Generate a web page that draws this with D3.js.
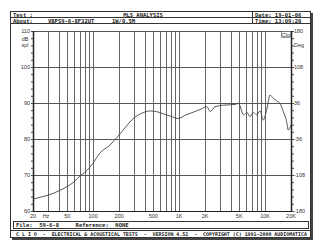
<!DOCTYPE html>
<html>
<head>
<script src="https://cdn.jsdelivr.net/npm/d3@7"></script>
<style>
  body { margin: 0; background: #fff; }
  text { font-family: "DejaVu Sans Mono", monospace; fill: #222; }
  .lbl { font-family: "Liberation Sans", sans-serif; font-size: 5.5px; fill: #333; }
</style>
</head>
<body>
<svg id="chart" width="325" height="250"></svg>
<script>
// Data (frequency response, dB spl)
var freqs = [20, 25, 30, 40, 50, 60, 70, 80, 100, 120, 157, 200, 250, 300, 350, 400, 460, 550, 650, 800,
             970, 1200, 1600, 1800, 2100, 2300, 2620, 3280, 4500, 4910, 5620, 6150, 6680, 7290, 7980, 8730,
             9530, 10430, 11400, 12460, 13640, 14900, 16280, 17820, 18600, 20000];
var spl = [63.3, 63.9, 64.4, 65.6, 66.8, 68.1, 69.7, 70.7, 73.3, 76.1, 78.3, 81.1, 83.9, 85.9, 86.9, 87.5, 87.8, 87.6, 87.0, 86.3,
           85.7, 86.7, 87.8, 88.3, 89.0, 87.6, 89.0, 89.4, 89.6, 89.9, 86.7, 87.4, 86.2, 87.4, 86.7, 87.8,
           85.3, 88.1, 92.2, 91.3, 90.6, 89.9, 87.6, 84.8, 82.5, 83.9];

var gridFreqs = [20, 30, 40, 50, 60, 70, 80, 90, 100, 200, 300, 400, 500, 600, 700, 800, 900, 1000,
                 2000, 3000, 4000, 5000, 6000, 7000, 8000, 9000, 10000, 20000];
var xTicks = [20, 50, 100, 200, 500, 1000, 2000, 5000, 10000, 20000];
var xTickLabels = ["20", "50", "100", "200", "500", "1K", "2K", "5K", "10K", "20K"];
var dbTicks = [110, 100, 90, 80, 70, 60];
var degTicks = [180, 108, 36, -36, -108, -180];

var svg = d3.select("svg#chart");
var pl = 33, pr = 291, pt = 31, pb = 211;   // plot box

var x = d3.scaleLog().domain([20, 20000]).range([pl, pr]);
var y = d3.scaleLinear().domain([60, 110]).range([pb, pt]);
var yDeg = d3.scaleLinear().domain([-180, 180]).range([pb, pt]);

// outer frame with shadow
svg.append("rect").attr("x", 12).attr("y", 13).attr("width", 301).attr("height", 227).attr("fill", "#444");
svg.append("rect").attr("x", 10.5).attr("y", 11.5).attr("width", 300).attr("height", 226)
  .attr("fill", "#fff").attr("stroke", "#333").attr("stroke-width", 1);

// header
var hdr = svg.append("g");
hdr.append("line").attr("x1", 10.5).attr("x2", 310.5).attr("y1", 17.5).attr("y2", 17.5).attr("stroke", "#333");
hdr.append("line").attr("x1", 10.5).attr("x2", 310.5).attr("y1", 23.5).attr("y2", 23.5).attr("stroke", "#333");
hdr.append("line").attr("x1", 252.5).attr("x2", 252.5).attr("y1", 11.5).attr("y2", 23.5).attr("stroke", "#333");
function htext(tx, ty, s, anchor) {
  hdr.append("text").attr("x", tx).attr("y", ty).attr("text-anchor", anchor || "start")
    .attr("font-size", "5.5px").attr("font-weight", "bold").attr("xml:space", "preserve").text(s);
}
htext(13, 16.5, "Test :");
htext(143, 16.5, "MLS ANALYSIS", "middle");
htext(255, 16.5, "Date: 19-01-06");
htext(13, 22.5, "About:");
htext(48, 22.5, "VBPS9-6-8F32UT");
htext(112, 22.5, "1W/0.5M");
htext(255, 22.5, "Time: 13:09:20");

// grid
var g = svg.append("g");
g.selectAll("line.v").data(gridFreqs).enter().append("line")
  .attr("x1", function(d) { return Math.round(x(d)) + 0.5; })
  .attr("x2", function(d) { return Math.round(x(d)) + 0.5; })
  .attr("y1", pt).attr("y2", pb)
  .attr("stroke", "#666").attr("stroke-width", 1);
g.selectAll("line.h").data(dbTicks).enter().append("line")
  .attr("x1", pl).attr("x2", pr)
  .attr("y1", function(d) { return Math.round(y(d)) + 0.5; })
  .attr("y2", function(d) { return Math.round(y(d)) + 0.5; })
  .attr("stroke", "#555").attr("stroke-width", 1);

// axes lines with minor ticks
g.append("line").attr("x1", pl + 0.5).attr("x2", pl + 0.5).attr("y1", pt).attr("y2", pb + 1).attr("stroke", "#222").attr("stroke-width", 1.5);
g.append("line").attr("x1", pr + 0.5).attr("x2", pr + 0.5).attr("y1", pt).attr("y2", pb + 1).attr("stroke", "#222").attr("stroke-width", 1.5);
g.append("line").attr("x1", pl).attr("x2", pr + 1).attr("y1", pb + 0.5).attr("y2", pb + 0.5).attr("stroke", "#222").attr("stroke-width", 1.2);

var yAxisL = d3.axisLeft(y).tickValues(d3.range(60, 110.1, 2)).tickSize(2).tickFormat("");
var yAxisR = d3.axisRight(yDeg).tickValues(d3.range(-180, 180.1, 14.4)).tickSize(2).tickFormat("");
svg.append("g").attr("transform", "translate(" + pl + ",0)").call(yAxisL)
  .call(function(s) { s.select(".domain").remove(); s.selectAll("line").attr("stroke", "#444"); });
svg.append("g").attr("transform", "translate(" + (pr + 1) + ",0)").call(yAxisR)
  .call(function(s) { s.select(".domain").remove(); s.selectAll("line").attr("stroke", "#444"); });

// labels left
svg.append("g").selectAll("text").data(dbTicks).enter().append("text").attr("class", "lbl")
  .attr("x", 30).attr("y", function(d) { return y(d) + 2; }).attr("text-anchor", "end").text(function(d) { return d; });
svg.append("text").attr("class", "lbl").attr("x", 25).attr("y", 41).attr("text-anchor", "middle").text("dB");
svg.append("text").attr("class", "lbl").attr("x", 25).attr("y", 47).attr("text-anchor", "middle").text("spl");

// labels right
svg.append("g").selectAll("text").data(degTicks).enter().append("text").attr("class", "lbl")
  .attr("x", 294).attr("y", function(d) { return yDeg(d) + 2; }).text(function(d) { return d; });
svg.append("text").attr("class", "lbl").attr("x", 294).attr("y", 47).text("Deg");

// Clo box
svg.append("rect").attr("x", 281.5).attr("y", 31.5).attr("width", 9).attr("height", 6).attr("fill", "#fff").attr("stroke", "#555").attr("stroke-width", 0.6);
svg.append("text").attr("class", "lbl").attr("x", 286).attr("y", 36.5).attr("text-anchor", "middle").attr("font-size", "4.5px").text("Clo");

// x labels
svg.append("g").selectAll("text").data(xTicks).enter().append("text").attr("class", "lbl")
  .attr("x", function(d) { return x(d); }).attr("y", 218).attr("text-anchor", "middle")
  .text(function(d, i) { return xTickLabels[i]; });
svg.append("text").attr("class", "lbl").attr("x", 46).attr("y", 218).attr("text-anchor", "middle").text("Hz");

// response curve
var pts = freqs.map(function(f, i) { return [f, spl[i]]; });
svg.append("path").datum(pts).attr("fill", "none").attr("stroke", "#444").attr("stroke-width", 0.9)
  .attr("d", d3.line().x(function(d) { return x(d[0]); }).y(function(d) { return y(d[1]); }).curve(d3.curveMonotoneX));

// file box
svg.append("rect").attr("x", 13.5).attr("y", 221.5).attr("width", 295).attr("height", 7).attr("fill", "none").attr("stroke", "#333");
svg.append("text").attr("x", 16).attr("y", 227.2).attr("font-size", "5.5px").attr("font-weight", "bold")
  .attr("xml:space", "preserve").text("File:  59-6-8     Reference:  NONE");

// footer
svg.append("line").attr("x1", 10.5).attr("x2", 310.5).attr("y1", 230.5).attr("y2", 230.5).attr("stroke", "#333");
svg.append("text").attr("x", 16).attr("y", 235.8).attr("font-size", "5px").attr("font-weight", "bold")
  .attr("textLength", 291).attr("lengthAdjust", "spacingAndGlyphs").attr("xml:space", "preserve")
  .text("C L I O  -  ELECTRICAL & ACOUSTICAL TESTS  -  VERSION 4.52  -  COPYRIGHT (C) 1991-2000 AUDIOMATICA");
</script>
</body>
</html>
